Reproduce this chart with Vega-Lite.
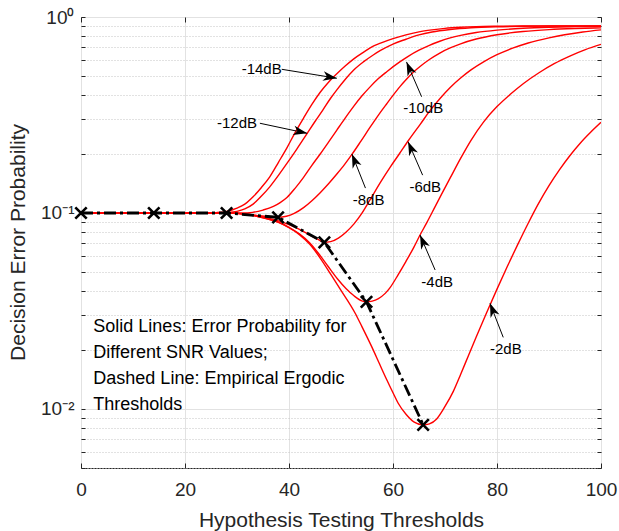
{
  "$schema": "https://vega.github.io/schema/vega-lite/v6.json",
  "width": 520,
  "height": 451,
  "autosize": {"type": "none"},
  "padding": {"left": 81, "top": 17, "right": 18, "bottom": 63},
  "background": "white",
  "config": {
    "view": {"stroke": "#262626", "strokeWidth": 1},
    "font": "Liberation Sans",
    "axis": {
      "labelFont": "Liberation Sans",
      "titleFont": "Liberation Sans",
      "labelColor": "#262626",
      "titleColor": "#262626",
      "tickColor": "#262626",
      "domain": false,
      "titleFontWeight": "normal",
      "labelFlush": false,
      "labelOverlap": false
    }
  },
  "datasets": {
    "curves": [
      {"s": "-14", "x": 0, "p": 0.1}, {"s": "-14", "x": 10, "p": 0.1}, {"s": "-14", "x": 20, "p": 0.1}, {"s": "-14", "x": 24, "p": 0.1}, {"s": "-14", "x": 26, "p": 0.1005}, {"s": "-14", "x": 28, "p": 0.102}, {"s": "-14", "x": 30, "p": 0.106}, {"s": "-14", "x": 31.5, "p": 0.111}, {"s": "-14", "x": 33.1, "p": 0.121}, {"s": "-14", "x": 34.7, "p": 0.135}, {"s": "-14", "x": 36.3, "p": 0.153}, {"s": "-14", "x": 38, "p": 0.182}, {"s": "-14", "x": 39.6, "p": 0.215}, {"s": "-14", "x": 41.2, "p": 0.258}, {"s": "-14", "x": 42.8, "p": 0.305}, {"s": "-14", "x": 44.4, "p": 0.358}, {"s": "-14", "x": 46, "p": 0.413}, {"s": "-14", "x": 47.6, "p": 0.465}, {"s": "-14", "x": 49.2, "p": 0.513}, {"s": "-14", "x": 50.8, "p": 0.562}, {"s": "-14", "x": 52.4, "p": 0.61}, {"s": "-14", "x": 54.3, "p": 0.66}, {"s": "-14", "x": 56.2, "p": 0.71}, {"s": "-14", "x": 57.6, "p": 0.735}, {"s": "-14", "x": 60, "p": 0.775}, {"s": "-14", "x": 62.5, "p": 0.81}, {"s": "-14", "x": 65, "p": 0.84}, {"s": "-14", "x": 67.5, "p": 0.86}, {"s": "-14", "x": 70, "p": 0.875}, {"s": "-14", "x": 73, "p": 0.886}, {"s": "-14", "x": 76, "p": 0.893}, {"s": "-14", "x": 80, "p": 0.897}, {"s": "-14", "x": 85, "p": 0.899}, {"s": "-14", "x": 90, "p": 0.9}, {"s": "-14", "x": 100, "p": 0.9},

      {"s": "-12", "x": 0, "p": 0.1}, {"s": "-12", "x": 10, "p": 0.1}, {"s": "-12", "x": 20, "p": 0.1}, {"s": "-12", "x": 26, "p": 0.1}, {"s": "-12", "x": 28, "p": 0.1005}, {"s": "-12", "x": 30, "p": 0.102}, {"s": "-12", "x": 31.5, "p": 0.105}, {"s": "-12", "x": 33.1, "p": 0.111}, {"s": "-12", "x": 34.7, "p": 0.122}, {"s": "-12", "x": 36.3, "p": 0.136}, {"s": "-12", "x": 38, "p": 0.156}, {"s": "-12", "x": 39.6, "p": 0.179}, {"s": "-12", "x": 41.5, "p": 0.212}, {"s": "-12", "x": 43.5, "p": 0.255}, {"s": "-12", "x": 45, "p": 0.293}, {"s": "-12", "x": 46.5, "p": 0.335}, {"s": "-12", "x": 48, "p": 0.385}, {"s": "-12", "x": 49.2, "p": 0.425}, {"s": "-12", "x": 50.8, "p": 0.48}, {"s": "-12", "x": 52.4, "p": 0.535}, {"s": "-12", "x": 54.3, "p": 0.59}, {"s": "-12", "x": 56.2, "p": 0.64}, {"s": "-12", "x": 57.6, "p": 0.675}, {"s": "-12", "x": 60.1, "p": 0.73}, {"s": "-12", "x": 62.5, "p": 0.77}, {"s": "-12", "x": 65, "p": 0.81}, {"s": "-12", "x": 67.5, "p": 0.838}, {"s": "-12", "x": 71, "p": 0.863}, {"s": "-12", "x": 75, "p": 0.881}, {"s": "-12", "x": 80, "p": 0.892}, {"s": "-12", "x": 85, "p": 0.897}, {"s": "-12", "x": 90, "p": 0.899}, {"s": "-12", "x": 100, "p": 0.9},

      {"s": "-10", "x": 0, "p": 0.1}, {"s": "-10", "x": 10, "p": 0.1}, {"s": "-10", "x": 20, "p": 0.1}, {"s": "-10", "x": 28, "p": 0.1}, {"s": "-10", "x": 31, "p": 0.1}, {"s": "-10", "x": 33, "p": 0.1008}, {"s": "-10", "x": 35, "p": 0.1035}, {"s": "-10", "x": 37, "p": 0.108}, {"s": "-10", "x": 38.3, "p": 0.113}, {"s": "-10", "x": 39.6, "p": 0.12}, {"s": "-10", "x": 41.2, "p": 0.134}, {"s": "-10", "x": 42.8, "p": 0.152}, {"s": "-10", "x": 44.4, "p": 0.175}, {"s": "-10", "x": 46, "p": 0.2}, {"s": "-10", "x": 47.6, "p": 0.23}, {"s": "-10", "x": 49.2, "p": 0.265}, {"s": "-10", "x": 50.8, "p": 0.305}, {"s": "-10", "x": 52.4, "p": 0.349}, {"s": "-10", "x": 54, "p": 0.395}, {"s": "-10", "x": 55.6, "p": 0.44}, {"s": "-10", "x": 57.2, "p": 0.485}, {"s": "-10", "x": 58.8, "p": 0.526}, {"s": "-10", "x": 61.3, "p": 0.59}, {"s": "-10", "x": 63, "p": 0.632}, {"s": "-10", "x": 65, "p": 0.677}, {"s": "-10", "x": 67, "p": 0.717}, {"s": "-10", "x": 69, "p": 0.752}, {"s": "-10", "x": 71, "p": 0.782}, {"s": "-10", "x": 73, "p": 0.806}, {"s": "-10", "x": 76, "p": 0.833}, {"s": "-10", "x": 80, "p": 0.857}, {"s": "-10", "x": 85, "p": 0.876}, {"s": "-10", "x": 90, "p": 0.887}, {"s": "-10", "x": 95, "p": 0.893}, {"s": "-10", "x": 100, "p": 0.896},

      {"s": "-8", "x": 0, "p": 0.1}, {"s": "-8", "x": 10, "p": 0.1}, {"s": "-8", "x": 20, "p": 0.1}, {"s": "-8", "x": 28, "p": 0.1}, {"s": "-8", "x": 30, "p": 0.0996}, {"s": "-8", "x": 32, "p": 0.0985}, {"s": "-8", "x": 34, "p": 0.097}, {"s": "-8", "x": 36, "p": 0.0957}, {"s": "-8", "x": 37.9, "p": 0.095}, {"s": "-8", "x": 39.5, "p": 0.0962}, {"s": "-8", "x": 41, "p": 0.0995}, {"s": "-8", "x": 42.8, "p": 0.1065}, {"s": "-8", "x": 44.4, "p": 0.1155}, {"s": "-8", "x": 46, "p": 0.127}, {"s": "-8", "x": 47.6, "p": 0.141}, {"s": "-8", "x": 49.2, "p": 0.158}, {"s": "-8", "x": 50.7, "p": 0.177}, {"s": "-8", "x": 52.1, "p": 0.199}, {"s": "-8", "x": 53.8, "p": 0.232}, {"s": "-8", "x": 55.6, "p": 0.274}, {"s": "-8", "x": 57.2, "p": 0.316}, {"s": "-8", "x": 58.8, "p": 0.361}, {"s": "-8", "x": 60, "p": 0.398}, {"s": "-8", "x": 61.3, "p": 0.44}, {"s": "-8", "x": 62.5, "p": 0.478}, {"s": "-8", "x": 64, "p": 0.525}, {"s": "-8", "x": 65.5, "p": 0.567}, {"s": "-8", "x": 67, "p": 0.607}, {"s": "-8", "x": 69, "p": 0.655}, {"s": "-8", "x": 71, "p": 0.695}, {"s": "-8", "x": 73, "p": 0.73}, {"s": "-8", "x": 76, "p": 0.772}, {"s": "-8", "x": 80, "p": 0.812}, {"s": "-8", "x": 85, "p": 0.843}, {"s": "-8", "x": 90, "p": 0.862}, {"s": "-8", "x": 95, "p": 0.873}, {"s": "-8", "x": 100, "p": 0.88},

      {"s": "-6", "x": 0, "p": 0.1}, {"s": "-6", "x": 10, "p": 0.1}, {"s": "-6", "x": 20, "p": 0.1}, {"s": "-6", "x": 28, "p": 0.1}, {"s": "-6", "x": 30, "p": 0.0996}, {"s": "-6", "x": 32, "p": 0.0985}, {"s": "-6", "x": 34, "p": 0.0966}, {"s": "-6", "x": 36, "p": 0.0942}, {"s": "-6", "x": 38, "p": 0.0912}, {"s": "-6", "x": 40, "p": 0.0872}, {"s": "-6", "x": 42, "p": 0.0825}, {"s": "-6", "x": 44, "p": 0.0772}, {"s": "-6", "x": 45.5, "p": 0.0735}, {"s": "-6", "x": 46.8, "p": 0.0708}, {"s": "-6", "x": 48, "p": 0.0714}, {"s": "-6", "x": 49.5, "p": 0.0745}, {"s": "-6", "x": 51, "p": 0.08}, {"s": "-6", "x": 52.5, "p": 0.088}, {"s": "-6", "x": 54, "p": 0.0995}, {"s": "-6", "x": 55.6, "p": 0.117}, {"s": "-6", "x": 57.7, "p": 0.145}, {"s": "-6", "x": 59.5, "p": 0.172}, {"s": "-6", "x": 61.2, "p": 0.2}, {"s": "-6", "x": 63, "p": 0.235}, {"s": "-6", "x": 65.3, "p": 0.285}, {"s": "-6", "x": 67, "p": 0.33}, {"s": "-6", "x": 69, "p": 0.383}, {"s": "-6", "x": 71, "p": 0.437}, {"s": "-6", "x": 73, "p": 0.488}, {"s": "-6", "x": 75, "p": 0.537}, {"s": "-6", "x": 77.5, "p": 0.592}, {"s": "-6", "x": 80, "p": 0.642}, {"s": "-6", "x": 83, "p": 0.693}, {"s": "-6", "x": 86, "p": 0.737}, {"s": "-6", "x": 90, "p": 0.783}, {"s": "-6", "x": 93, "p": 0.812}, {"s": "-6", "x": 96.5, "p": 0.839}, {"s": "-6", "x": 100, "p": 0.86},

      {"s": "-4", "x": 0, "p": 0.1}, {"s": "-4", "x": 10, "p": 0.1}, {"s": "-4", "x": 20, "p": 0.1}, {"s": "-4", "x": 28, "p": 0.1}, {"s": "-4", "x": 30, "p": 0.0995}, {"s": "-4", "x": 32, "p": 0.0982}, {"s": "-4", "x": 34, "p": 0.096}, {"s": "-4", "x": 36, "p": 0.0932}, {"s": "-4", "x": 38, "p": 0.0897}, {"s": "-4", "x": 40, "p": 0.0845}, {"s": "-4", "x": 42, "p": 0.0782}, {"s": "-4", "x": 44, "p": 0.0703}, {"s": "-4", "x": 46, "p": 0.0606}, {"s": "-4", "x": 47.5, "p": 0.0535}, {"s": "-4", "x": 49.3, "p": 0.0462}, {"s": "-4", "x": 51, "p": 0.0411}, {"s": "-4", "x": 52.5, "p": 0.0378}, {"s": "-4", "x": 54, "p": 0.0356}, {"s": "-4", "x": 54.9, "p": 0.0352}, {"s": "-4", "x": 56, "p": 0.0355}, {"s": "-4", "x": 57.2, "p": 0.0366}, {"s": "-4", "x": 58.5, "p": 0.0389}, {"s": "-4", "x": 59.4, "p": 0.0415}, {"s": "-4", "x": 61, "p": 0.0485}, {"s": "-4", "x": 62.5, "p": 0.0567}, {"s": "-4", "x": 64, "p": 0.0668}, {"s": "-4", "x": 65.2, "p": 0.0772}, {"s": "-4", "x": 66.5, "p": 0.0893}, {"s": "-4", "x": 68, "p": 0.1065}, {"s": "-4", "x": 69.5, "p": 0.127}, {"s": "-4", "x": 71, "p": 0.151}, {"s": "-4", "x": 73, "p": 0.19}, {"s": "-4", "x": 75, "p": 0.235}, {"s": "-4", "x": 77.4, "p": 0.291}, {"s": "-4", "x": 80, "p": 0.349}, {"s": "-4", "x": 82.5, "p": 0.402}, {"s": "-4", "x": 85.1, "p": 0.458}, {"s": "-4", "x": 88, "p": 0.518}, {"s": "-4", "x": 91, "p": 0.578}, {"s": "-4", "x": 94, "p": 0.632}, {"s": "-4", "x": 97, "p": 0.682}, {"s": "-4", "x": 100, "p": 0.725},

      {"s": "-2", "x": 0, "p": 0.1}, {"s": "-2", "x": 10, "p": 0.1}, {"s": "-2", "x": 20, "p": 0.1}, {"s": "-2", "x": 28, "p": 0.1}, {"s": "-2", "x": 30, "p": 0.0995}, {"s": "-2", "x": 32, "p": 0.0982}, {"s": "-2", "x": 34, "p": 0.096}, {"s": "-2", "x": 36, "p": 0.0931}, {"s": "-2", "x": 38, "p": 0.0895}, {"s": "-2", "x": 40, "p": 0.0841}, {"s": "-2", "x": 42, "p": 0.0776}, {"s": "-2", "x": 44, "p": 0.0692}, {"s": "-2", "x": 46, "p": 0.0589}, {"s": "-2", "x": 48.2, "p": 0.0479}, {"s": "-2", "x": 50, "p": 0.0403}, {"s": "-2", "x": 52.7, "p": 0.0309}, {"s": "-2", "x": 54, "p": 0.0264}, {"s": "-2", "x": 55.9, "p": 0.0208}, {"s": "-2", "x": 57.4, "p": 0.017}, {"s": "-2", "x": 58.8, "p": 0.0141}, {"s": "-2", "x": 60, "p": 0.0121}, {"s": "-2", "x": 61, "p": 0.0107}, {"s": "-2", "x": 62.5, "p": 0.0094}, {"s": "-2", "x": 64, "p": 0.0086}, {"s": "-2", "x": 65.8, "p": 0.0083}, {"s": "-2", "x": 67, "p": 0.0084}, {"s": "-2", "x": 68.4, "p": 0.0089}, {"s": "-2", "x": 70, "p": 0.0103}, {"s": "-2", "x": 71.6, "p": 0.0123}, {"s": "-2", "x": 73, "p": 0.015}, {"s": "-2", "x": 74.5, "p": 0.0187}, {"s": "-2", "x": 76, "p": 0.0233}, {"s": "-2", "x": 78, "p": 0.031}, {"s": "-2", "x": 80, "p": 0.0409}, {"s": "-2", "x": 82, "p": 0.0535}, {"s": "-2", "x": 84, "p": 0.0692}, {"s": "-2", "x": 86, "p": 0.0887}, {"s": "-2", "x": 88, "p": 0.112}, {"s": "-2", "x": 90, "p": 0.138}, {"s": "-2", "x": 92, "p": 0.166}, {"s": "-2", "x": 94, "p": 0.196}, {"s": "-2", "x": 96, "p": 0.227}, {"s": "-2", "x": 98, "p": 0.258}, {"s": "-2", "x": 100, "p": 0.29}
    ],
    "thresh": [
      {"x": 0, "p": 0.1}, {"x": 14, "p": 0.1}, {"x": 28, "p": 0.1}, {"x": 37.9, "p": 0.095}, {"x": 46.8, "p": 0.0708}, {"x": 54.9, "p": 0.0352}, {"x": 65.8, "p": 0.0083}
    ],
    "arrows": [
      {"l": "-14dB", "tx": 34.75, "ty": 0.541, "x1": 38.6, "y1": 0.541, "x2": 49.2, "y2": 0.487, "a": 99.3},
      {"l": "-12dB", "tx": 30.0, "ty": 0.289, "x1": 34.4, "y1": 0.287, "x2": 43.5, "y2": 0.255, "a": 101.9},
      {"l": "-10dB", "tx": 65.8, "ty": 0.342, "x1": 65.5, "y1": 0.392, "x2": 62.6, "y2": 0.59, "a": -23.2},
      {"l": "-8dB", "tx": 55.3, "ty": 0.117, "x1": 54.7, "y1": 0.134, "x2": 52.1, "y2": 0.2, "a": -21.8},
      {"l": "-6dB", "tx": 66.2, "ty": 0.135, "x1": 65.7, "y1": 0.156, "x2": 62.9, "y2": 0.231, "a": -23.4},
      {"l": "-4dB", "tx": 68.5, "ty": 0.0446, "x1": 68.1, "y1": 0.0512, "x2": 65.2, "y2": 0.0772, "a": -23.2},
      {"l": "-2dB", "tx": 81.7, "ty": 0.0202, "x1": 81.2, "y1": 0.0232, "x2": 78.65, "y2": 0.0346, "a": -21.4}
    ],
    "note": [
      {"t": ["Solid Lines: Error Probability for", "Different SNR Values;", "Dashed Line: Empirical Ergodic", "Thresholds"], "x": 2.37, "p": 0.0247}
    ]
  },
  "resolve": {"axis": {"x": "independent", "y": "independent"}},
  "layer": [
    {
      "data": {"name": "curves"},
      "mark": {"type": "line", "color": "#ff0000", "strokeWidth": 1.4, "interpolate": "monotone", "clip": true},
      "encoding": {
        "x": {
          "field": "x", "type": "quantitative",
          "scale": {"domain": [0, 100], "nice": false, "zero": false},
          "axis": {
            "orient": "bottom",
            "values": [0, 20, 40, 60, 80, 100],
            "title": "Hypothesis Testing Thresholds",
            "grid": true, "gridColor": "#e2e2e2", "gridWidth": 1,
            "tickSize": -5, "labelPadding": 17,
            "labelFontSize": 19, "titleFontSize": 21,
            "titleX": 260, "titleY": 52, "titleBaseline": "middle"
          }
        },
        "y": {
          "field": "p", "type": "quantitative",
          "scale": {"type": "log", "domain": [0.005, 1], "nice": false},
          "axis": {
            "orient": "left",
            "values": [0.005, 0.006, 0.007, 0.008, 0.009, 0.01, 0.02, 0.03, 0.04, 0.05, 0.06, 0.07, 0.08, 0.09, 0.1, 0.2, 0.3, 0.4, 0.5, 0.6, 0.7, 0.8, 0.9, 1],
            "labelExpr": "datum.value == 1 ? '10⁰' : datum.value == 0.1 ? '10⁻¹' : datum.value == 0.01 ? '10⁻²' : ''",
            "title": "Decision Error Probability",
            "grid": true,
            "gridColor": {"condition": {"test": "datum.value == 1 || datum.value == 0.1 || datum.value == 0.01", "value": "#e2e2e2"}, "value": "#c4c4c4"},
            "gridDash": {"condition": {"test": "datum.value == 1 || datum.value == 0.1 || datum.value == 0.01", "value": []}, "value": [1, 2]},
            "tickSize": -4, "labelPadding": 11,
            "labelFontSize": 19, "titleFontSize": 21,
            "titleX": -63, "titleY": 225, "titleBaseline": "middle", "titleAngle": -90
          }
        },
        "detail": {"field": "s"}
      }
    },
    {
      "data": {"name": "thresh"},
      "mark": {"type": "point", "opacity": 0},
      "encoding": {
        "x": {
          "field": "x", "type": "quantitative",
          "scale": {"domain": [0, 100], "nice": false, "zero": false},
          "axis": {"orient": "top", "values": [0, 20, 40, 60, 80, 100], "labels": false, "title": null, "grid": false, "tickSize": -5}
        },
        "y": {
          "field": "p", "type": "quantitative",
          "scale": {"type": "log", "domain": [0.005, 1], "nice": false},
          "axis": {"orient": "right", "values": [0.005, 0.006, 0.007, 0.008, 0.009, 0.01, 0.02, 0.03, 0.04, 0.05, 0.06, 0.07, 0.08, 0.09, 0.1, 0.2, 0.3, 0.4, 0.5, 0.6, 0.7, 0.8, 0.9, 1], "labels": false, "title": null, "grid": false, "tickSize": -4}
        }
      }
    },
    {
      "data": {"name": "thresh"},
      "mark": {"type": "line", "color": "black", "strokeWidth": 2.8, "strokeDash": [12, 4, 3, 4]},
      "encoding": {
        "x": {"field": "x", "type": "quantitative", "scale": {"domain": [0, 100], "nice": false, "zero": false}, "axis": null},
        "y": {"field": "p", "type": "quantitative", "scale": {"type": "log", "domain": [0.005, 1], "nice": false}, "axis": null}
      }
    },
    {
      "data": {"name": "thresh"},
      "mark": {"type": "point", "shape": "M-1,-1L1,1M-1,1L1,-1", "filled": false, "stroke": "black", "strokeWidth": 2.6, "size": 130, "opacity": 1},
      "encoding": {
        "x": {"field": "x", "type": "quantitative", "scale": {"domain": [0, 100], "nice": false, "zero": false}, "axis": null},
        "y": {"field": "p", "type": "quantitative", "scale": {"type": "log", "domain": [0.005, 1], "nice": false}, "axis": null}
      }
    },
    {
      "data": {"name": "arrows"},
      "mark": {"type": "rule", "color": "black", "strokeWidth": 1},
      "encoding": {
        "x": {"field": "x1", "type": "quantitative", "scale": {"domain": [0, 100], "nice": false, "zero": false}, "axis": null},
        "y": {"field": "y1", "type": "quantitative", "scale": {"type": "log", "domain": [0.005, 1], "nice": false}, "axis": null},
        "x2": {"field": "x2"},
        "y2": {"field": "y2"}
      }
    },
    {
      "data": {"name": "arrows"},
      "mark": {"type": "point", "shape": "M0,0L0.55,1.6L0,1.15L-0.55,1.6Z", "filled": true, "color": "black", "size": 300, "opacity": 1},
      "encoding": {
        "x": {"field": "x2", "type": "quantitative", "scale": {"domain": [0, 100], "nice": false, "zero": false}, "axis": null},
        "y": {"field": "y2", "type": "quantitative", "scale": {"type": "log", "domain": [0.005, 1], "nice": false}, "axis": null},
        "angle": {"field": "a", "type": "quantitative", "scale": null}
      }
    },
    {
      "data": {"name": "arrows"},
      "mark": {"type": "text", "fontSize": 15, "color": "black", "align": "center", "baseline": "middle", "font": "Liberation Sans"},
      "encoding": {
        "x": {"field": "tx", "type": "quantitative", "scale": {"domain": [0, 100], "nice": false, "zero": false}, "axis": null},
        "y": {"field": "ty", "type": "quantitative", "scale": {"type": "log", "domain": [0.005, 1], "nice": false}, "axis": null},
        "text": {"field": "l"}
      }
    },
    {
      "data": {"name": "note"},
      "mark": {"type": "text", "fontSize": 18, "color": "black", "align": "left", "baseline": "alphabetic", "lineHeight": 26, "font": "Liberation Sans"},
      "encoding": {
        "x": {"field": "x", "type": "quantitative", "scale": {"domain": [0, 100], "nice": false, "zero": false}, "axis": null},
        "y": {"field": "p", "type": "quantitative", "scale": {"type": "log", "domain": [0.005, 1], "nice": false}, "axis": null},
        "text": {"field": "t"}
      }
    }
  ]
}
